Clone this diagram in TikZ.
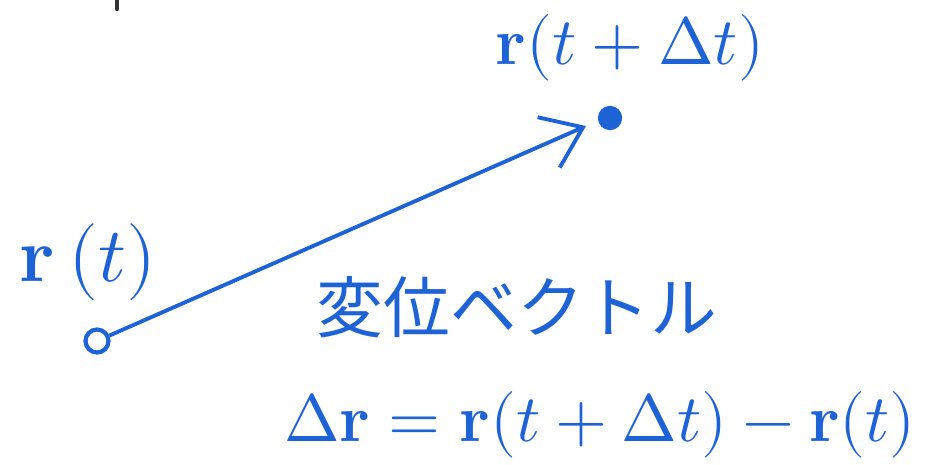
\documentclass[tikz,border=0pt]{standalone}
\usepackage{amsmath}
\usepackage{fontspec}
\usepackage{unicode-math}
\newfontfamily\cjk{Noto Sans CJK JP}
\usetikzlibrary{arrows.meta}
\definecolor{pen}{HTML}{1E63D6}
\tikzset{
  lbl/.style={text=pen, inner sep=0pt, font=\fontsize{38}{44}\selectfont},
  pt/.style={circle, draw=pen, line width=2.4pt, inner sep=0pt, minimum size=0.46cm},
  vec/.style={draw=pen, line width=2.2pt, -{Straight Barb[length=0.75cm, width=1.1cm, line width=2.2pt]}},
}
\begin{document}
\begin{tikzpicture}[x=0.02cm, y=-0.02cm]
\useasboundingbox (0,0) rectangle (935,464);
\node[pt, fill=white] (start) at (97,341) {};
\node[pt, fill=pen, minimum size=0.4cm] (end) at (610,118) {};
\coordinate (tip) at (586,126);
\draw[vec] (start) -- (tip);
\node[lbl] (lend) at (630,48) {$\mathbf{r}(t+\Delta t)$};
\node[lbl, font=\fontsize{44}{50}\selectfont] (lstart) at (88,262) {$\mathbf{r}\,(t)$};
\node[lbl, font=\cjk\fontsize{38}{44}\selectfont] (name) at (517,307) {変位ベクトル};
\node[lbl] (eq) at (600,425) {$\Delta\mathbf{r}=\mathbf{r}(t+\Delta t)-\mathbf{r}(t)$};
\coordinate (m1) at (117,0);
\coordinate (m2) at (117,9);
\draw[line width=2.5pt, black!80, line cap=round] (m1) -- (m2);
\end{tikzpicture}
\end{document}
